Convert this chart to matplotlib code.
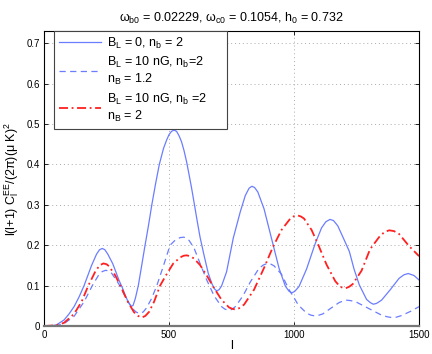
import numpy as np
import matplotlib
matplotlib.use('Agg')
import matplotlib.pyplot as plt

plt.rcParams['font.family'] = ['Liberation Sans', 'DejaVu Sans']
plt.rcParams['mathtext.default'] = 'regular'

# B_L = 0, n_b = 2 (solid)
l_solid = [0, 25, 50, 80, 100, 120, 140, 160, 190, 210, 222, 233, 243, 255, 275, 300, 313, 325, 338, 344, 350,
           356, 365, 377, 390, 404, 418, 431, 446, 461, 478, 490, 500, 510, 520, 530, 540, 550, 560, 570, 580,
           590, 600, 612, 624, 640, 657, 672, 683, 691, 700, 710, 730, 757, 785, 805, 820, 831, 842, 855, 880,
           911, 940, 965, 980, 991, 1003, 1020, 1050, 1084, 1110, 1127, 1144, 1158, 1175, 1200, 1221, 1240,
           1261, 1290, 1305, 1317, 1330, 1350, 1385, 1420, 1440, 1457, 1480, 1500]
c_solid = [0, 0.0, 0.003, 0.015, 0.03, 0.048, 0.072, 0.1, 0.15, 0.178, 0.189, 0.192, 0.189, 0.178, 0.154, 0.113,
           0.095, 0.075, 0.058, 0.052, 0.049, 0.051, 0.068, 0.1, 0.148, 0.2, 0.25, 0.3, 0.352, 0.4, 0.44, 0.46,
           0.474, 0.482, 0.485, 0.482, 0.471, 0.456, 0.434, 0.407, 0.375, 0.342, 0.306, 0.262, 0.22, 0.175,
           0.13, 0.104, 0.091, 0.087, 0.09, 0.099, 0.134, 0.218, 0.283, 0.323, 0.341, 0.346, 0.343, 0.332, 0.29,
           0.214, 0.143, 0.099, 0.086, 0.082, 0.086, 0.098, 0.141, 0.203, 0.243, 0.258, 0.264, 0.261, 0.248,
           0.214, 0.185, 0.141, 0.102, 0.066, 0.058, 0.054, 0.056, 0.064, 0.09, 0.118, 0.127, 0.13, 0.125, 0.114]

# B_L = 10 nG, n_B = 1.2 (dashed)
l_dash = [0, 50, 80, 120, 160, 193, 220, 233, 247, 258, 270, 300, 330, 355, 370, 384, 397, 410, 430, 451, 478,
          504, 525, 545, 560, 580, 600, 624, 650, 680, 710, 723, 737, 751, 765, 795, 825, 860, 877, 893, 908,
          920, 950, 980, 1000, 1017, 1050, 1067, 1084, 1100, 1115, 1147, 1180, 1196, 1211, 1226, 1250, 1300,
          1350, 1372, 1391, 1410, 1430, 1465, 1500]
c_dash = [0, 0.001, 0.006, 0.024, 0.06, 0.1, 0.128, 0.135, 0.138, 0.136, 0.131, 0.103, 0.067, 0.042, 0.034,
          0.031, 0.035, 0.045, 0.068, 0.1, 0.15, 0.2, 0.213, 0.219, 0.22, 0.212, 0.193, 0.155, 0.115, 0.075,
          0.048, 0.042, 0.039, 0.041, 0.048, 0.074, 0.109, 0.143, 0.151, 0.155, 0.153, 0.149, 0.128, 0.09,
          0.07, 0.052, 0.032, 0.027, 0.025, 0.027, 0.03, 0.044, 0.058, 0.062, 0.064, 0.063, 0.059, 0.043,
          0.027, 0.023, 0.021, 0.022, 0.026, 0.036, 0.048]

# B_L = 10 nG, n_B = 2 (dash-dot)
l_dd = [0, 50, 80, 120, 150, 177, 205, 222, 237, 250, 260, 285, 309, 335, 360, 376, 391, 405, 420, 440, 464,
        490, 517, 545, 558, 570, 585, 600, 624, 650, 680, 710, 740, 752, 764, 780, 800, 840, 880, 915, 950,
        985, 1000, 1014, 1028, 1040, 1070, 1097, 1130, 1165, 1185, 1204, 1220, 1235, 1270, 1304, 1340, 1362,
        1381, 1400, 1420, 1460, 1500]
c_dd = [0, 0.002, 0.008, 0.03, 0.06, 0.1, 0.135, 0.15, 0.155, 0.153, 0.148, 0.125, 0.095, 0.06, 0.034, 0.025,
        0.021, 0.025, 0.035, 0.06, 0.1, 0.128, 0.155, 0.17, 0.174, 0.175, 0.173, 0.167, 0.151, 0.126, 0.094,
        0.065, 0.046, 0.043, 0.041, 0.044, 0.053, 0.09, 0.144, 0.195, 0.238, 0.266, 0.272, 0.274, 0.271, 0.266,
        0.238, 0.201, 0.152, 0.111, 0.097, 0.093, 0.097, 0.104, 0.137, 0.19, 0.22, 0.233, 0.237, 0.235, 0.228,
        0.198, 0.173]

labels = ['B$_L$ = 0, n$_b$ = 2',
          'B$_L$ = 10 nG, n$_b$=2\nn$_B$ = 1.2',
          'B$_L$ = 10 nG, n$_b$ =2\nn$_B$ = 2']

fig = plt.figure(figsize=(4.32, 3.54), dpi=100)
ax = fig.add_axes([0.102, 0.079, 0.868, 0.833])

ax.plot(l_solid, c_solid, '-', color='#6b7dff', lw=0.9, label=labels[0])
ax.plot(l_dash, c_dash, '--', color='#6b7dff', lw=0.9, dashes=(5, 3.5), label=labels[1])
ax.plot(l_dd, c_dd, '-.', color='#ff2020', lw=1.3, dashes=(5, 2, 1, 2), label=labels[2])

ax.set_xlim(0, 1500)
ax.set_ylim(0, 0.73)
ax.set_xticks([0, 500, 1000, 1500])
ax.set_yticks([0, 0.1, 0.2, 0.3, 0.4, 0.5, 0.6, 0.7])
ax.set_yticklabels(['0', '0.1', '0.2', '0.3', '0.4', '0.5', '0.6', '0.7'])
ax.tick_params(direction='in', top=True, right=True, labelsize=7, length=3, width=0.6, pad=3)
ax.grid(True, linestyle=(0, (1, 3)), color='#aaaaaa', lw=0.7)
for s in ax.spines.values():
    s.set_linewidth(0.8)
ax.spines['bottom'].set_color('#777777')
ax.spines['bottom'].set_linewidth(1.6)

ax.set_xlabel('l', fontsize=9, labelpad=0)
ax.set_ylabel('l(l+1) C$_l^{EE}$/(2π)(μ K)$^2$', fontsize=9, labelpad=4)
ax.set_title('ω$_{b0}$ = 0.02229, ω$_{c0}$ = 0.1054, h$_0$ = 0.732', fontsize=9, pad=7)

leg = ax.legend(loc='upper left', bbox_to_anchor=(0.027, 0.5, 0.461, 0.5), mode='expand', fontsize=9,
                frameon=True, fancybox=False, edgecolor='#444444', framealpha=1, handlelength=3.4,
                handletextpad=0.5, borderaxespad=0.0, labelspacing=0.35, borderpad=0.35)
leg.get_frame().set_linewidth(0.8)

fig.savefig('out.png', dpi=100)
